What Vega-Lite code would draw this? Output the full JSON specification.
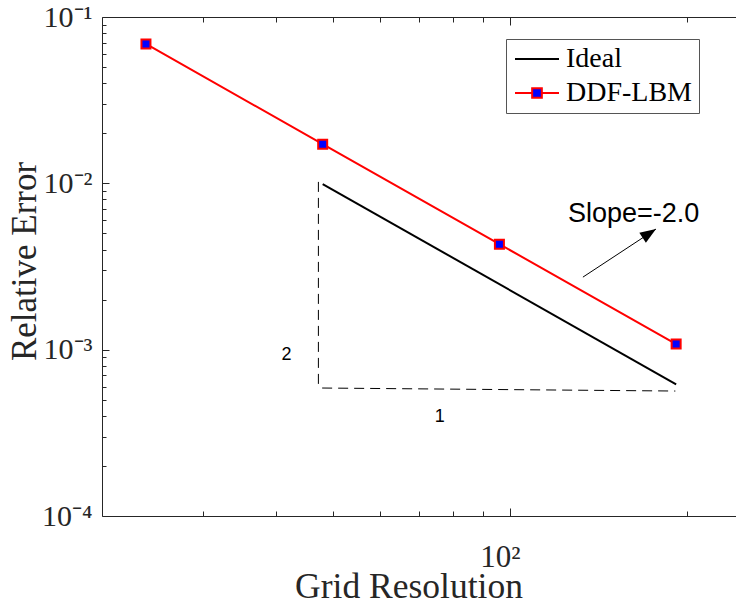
{
  "$schema": "https://vega.github.io/schema/vega-lite/v6.json",
  "width": 634,
  "height": 499,
  "autosize": {"type": "none"},
  "padding": {"left": 102, "top": 17, "right": 0, "bottom": 88},
  "background": "white",
  "config": {
    "view": {"stroke": null},
    "axis": {
      "domainColor": "#262626",
      "tickColor": "#262626",
      "labelColor": "#262626",
      "titleColor": "#262626",
      "labelFont": "Liberation Serif",
      "titleFont": "Liberation Serif",
      "grid": false,
      "titleFontWeight": "normal"
    }
  },
  "datasets": {
    "series": [
      {"res": 48, "err": 0.0099, "series": "Ideal"},
      {"res": 192, "err": 0.000619, "series": "Ideal"},
      {"res": 24, "err": 0.0689, "series": "DDF-LBM"},
      {"res": 48, "err": 0.0172, "series": "DDF-LBM"},
      {"res": 96, "err": 0.00431, "series": "DDF-LBM"},
      {"res": 192, "err": 0.00108, "series": "DDF-LBM"}
    ],
    "guides": [
      {"x": 47.2, "y": 0.0102, "x2": 47.2, "y2": 0.000596},
      {"x": 47.9, "y": 0.000588, "x2": 191.4, "y2": 0.000564}
    ],
    "arrow": [{"x": 133.2, "y": 0.00273, "x2": 177.4, "y2": 0.00531}],
    "slope": [{"x": 125.6, "y": 0.00585, "text": "Slope=-2.0"}],
    "ratio": [
      {"x": 41.67, "y": 0.000928, "text": "2"},
      {"x": 75.99, "y": 0.000393, "text": "1"}
    ]
  },
  "resolve": {"axis": {"x": "independent", "y": "independent"}},
  "layer": [
    {
      "data": {"name": "series"},
      "mark": {"type": "line", "strokeWidth": 2},
      "encoding": {
        "x": {
          "field": "res", "type": "quantitative",
          "scale": {"type": "log", "domain": [20.2, 242.8], "nice": false},
          "axis": {
            "orient": "bottom",
            "values": [30, 40, 50, 60, 70, 80, 90, 100, 200],
            "labelExpr": "datum.value == 100 ? '10²' : ''",
            "tickSize": {"condition": {"test": "datum.value == 100", "value": -8}, "value": -5},
            "labelFontSize": 31,
            "labelPadding": 34,
            "labelOffset": -10,
            "labelFlush": false,
            "labelOverlap": false,
            "title": "Grid Resolution",
            "titleFontSize": 35.5,
            "titleX": 306.5,
            "titleY": 81,
            "titleBaseline": "alphabetic",
            "titleAnchor": "middle"
          }
        },
        "y": {
          "field": "err", "type": "quantitative",
          "scale": {"type": "log", "domain": [0.0001, 0.1], "nice": false},
          "axis": {
            "orient": "left",
            "values": [0.0001, 0.0002, 0.0003, 0.0004, 0.0005, 0.0006, 0.0007, 0.0008, 0.0009,
                       0.001, 0.002, 0.003, 0.004, 0.005, 0.006, 0.007, 0.008, 0.009,
                       0.01, 0.02, 0.03, 0.04, 0.05, 0.06, 0.07, 0.08, 0.09, 0.1],
            "labelExpr": "datum.value == 0.1 ? '10⁻¹' : datum.value == 0.01 ? '10⁻²' : datum.value == 0.001 ? '10⁻³' : datum.value == 0.0001 ? '10⁻⁴' : ''",
            "tickSize": {"condition": {"test": "datum.value == 0.1 || datum.value == 0.01 || datum.value == 0.001 || datum.value == 0.0001", "value": -7}, "value": -4},
            "labelFontSize": 30,
            "labelPadding": 17,
            "labelFlush": false,
            "labelOverlap": false,
            "title": "Relative Error",
            "titleFontSize": 35,
            "titleX": -67,
            "titleY": 244,
            "titleBaseline": "alphabetic",
            "titleAngle": -90,
            "titleAnchor": "middle"
          }
        },
        "color": {
          "field": "series", "type": "nominal",
          "scale": {"domain": ["Ideal", "DDF-LBM"], "range": ["#000000", "#ff0000"]},
          "legend": {
            "orient": "none",
            "legendX": 404,
            "legendY": 22,
            "title": null,
            "padding": 6,
            "rowPadding": 6,
            "labelFont": "Liberation Serif",
            "labelFontSize": 28,
            "labelColor": "#000000",
            "labelOffset": 15,
            "symbolOffset": 11,
            "labelLimit": 300,
            "strokeColor": "#555555",
            "fillColor": "white",
            "symbolSize": 484,
            "symbolStrokeWidth": 2,
            "encode": {
              "symbols": {
                "update": {
                  "shape": {"signal": "datum.value == 'Ideal' ? 'M-2,0H2' : 'M-2,0H-0.44M0.44,0H2M-0.44,-0.44H0.44V0.44H-0.44Z'"},
                  "fill": {"signal": "datum.value == 'Ideal' ? 'transparent' : '#0000ff'"}
                }
              }
            }
          }
        }
      }
    },
    {
      "data": {"name": "series"},
      "transform": [{"filter": "datum.series == 'DDF-LBM'"}],
      "mark": {"type": "point", "shape": "square", "filled": true, "fill": "#0000ff", "stroke": "#ff0000", "strokeWidth": 2, "size": 81, "opacity": 1},
      "encoding": {
        "x": {
          "field": "res", "type": "quantitative",
          "scale": {"type": "log", "domain": [20.2, 242.8], "nice": false},
          "axis": {
            "orient": "top",
            "values": [30, 40, 50, 60, 70, 80, 90, 100, 200],
            "labels": false,
            "tickSize": {"condition": {"test": "datum.value == 100", "value": -8}, "value": -5},
            "title": null
          }
        },
        "y": {
          "field": "err", "type": "quantitative",
          "scale": {"type": "log", "domain": [0.0001, 0.1], "nice": false},
          "axis": null
        }
      }
    },
    {
      "data": {"name": "guides"},
      "mark": {"type": "rule", "color": "#000000", "strokeWidth": 1, "strokeDash": [10, 6]},
      "encoding": {
        "x": {"field": "x", "type": "quantitative", "scale": {"type": "log", "domain": [20.2, 242.8], "nice": false}, "axis": null},
        "y": {"field": "y", "type": "quantitative", "scale": {"type": "log", "domain": [0.0001, 0.1], "nice": false}, "axis": null},
        "x2": {"field": "x2"},
        "y2": {"field": "y2"}
      }
    },
    {
      "data": {"name": "arrow"},
      "mark": {"type": "rule", "color": "#000000", "strokeWidth": 1},
      "encoding": {
        "x": {"field": "x", "type": "quantitative", "scale": {"type": "log", "domain": [20.2, 242.8], "nice": false}, "axis": null},
        "y": {"field": "y", "type": "quantitative", "scale": {"type": "log", "domain": [0.0001, 0.1], "nice": false}, "axis": null},
        "x2": {"field": "x2"},
        "y2": {"field": "y2"}
      }
    },
    {
      "data": {"name": "arrow"},
      "mark": {"type": "point", "shape": "M0,0L-0.6,1.6L0.6,1.6Z", "filled": true, "fill": "#000000", "strokeWidth": 0, "size": 400, "angle": 56.7, "opacity": 1},
      "encoding": {
        "x": {"field": "x2", "type": "quantitative", "scale": {"type": "log", "domain": [20.2, 242.8], "nice": false}, "axis": null},
        "y": {"field": "y2", "type": "quantitative", "scale": {"type": "log", "domain": [0.0001, 0.1], "nice": false}, "axis": null}
      }
    },
    {
      "data": {"name": "slope"},
      "mark": {"type": "text", "font": "Liberation Sans", "fontSize": 27, "align": "left", "baseline": "alphabetic", "color": "#000000"},
      "encoding": {
        "x": {"field": "x", "type": "quantitative", "scale": {"type": "log", "domain": [20.2, 242.8], "nice": false}, "axis": null},
        "y": {"field": "y", "type": "quantitative", "scale": {"type": "log", "domain": [0.0001, 0.1], "nice": false}, "axis": null},
        "text": {"field": "text"}
      }
    },
    {
      "data": {"name": "ratio"},
      "mark": {"type": "text", "font": "Liberation Sans", "fontSize": 18, "align": "center", "baseline": "middle", "color": "#000000"},
      "encoding": {
        "x": {"field": "x", "type": "quantitative", "scale": {"type": "log", "domain": [20.2, 242.8], "nice": false}, "axis": null},
        "y": {"field": "y", "type": "quantitative", "scale": {"type": "log", "domain": [0.0001, 0.1], "nice": false}, "axis": null},
        "text": {"field": "text"}
      }
    }
  ]
}
